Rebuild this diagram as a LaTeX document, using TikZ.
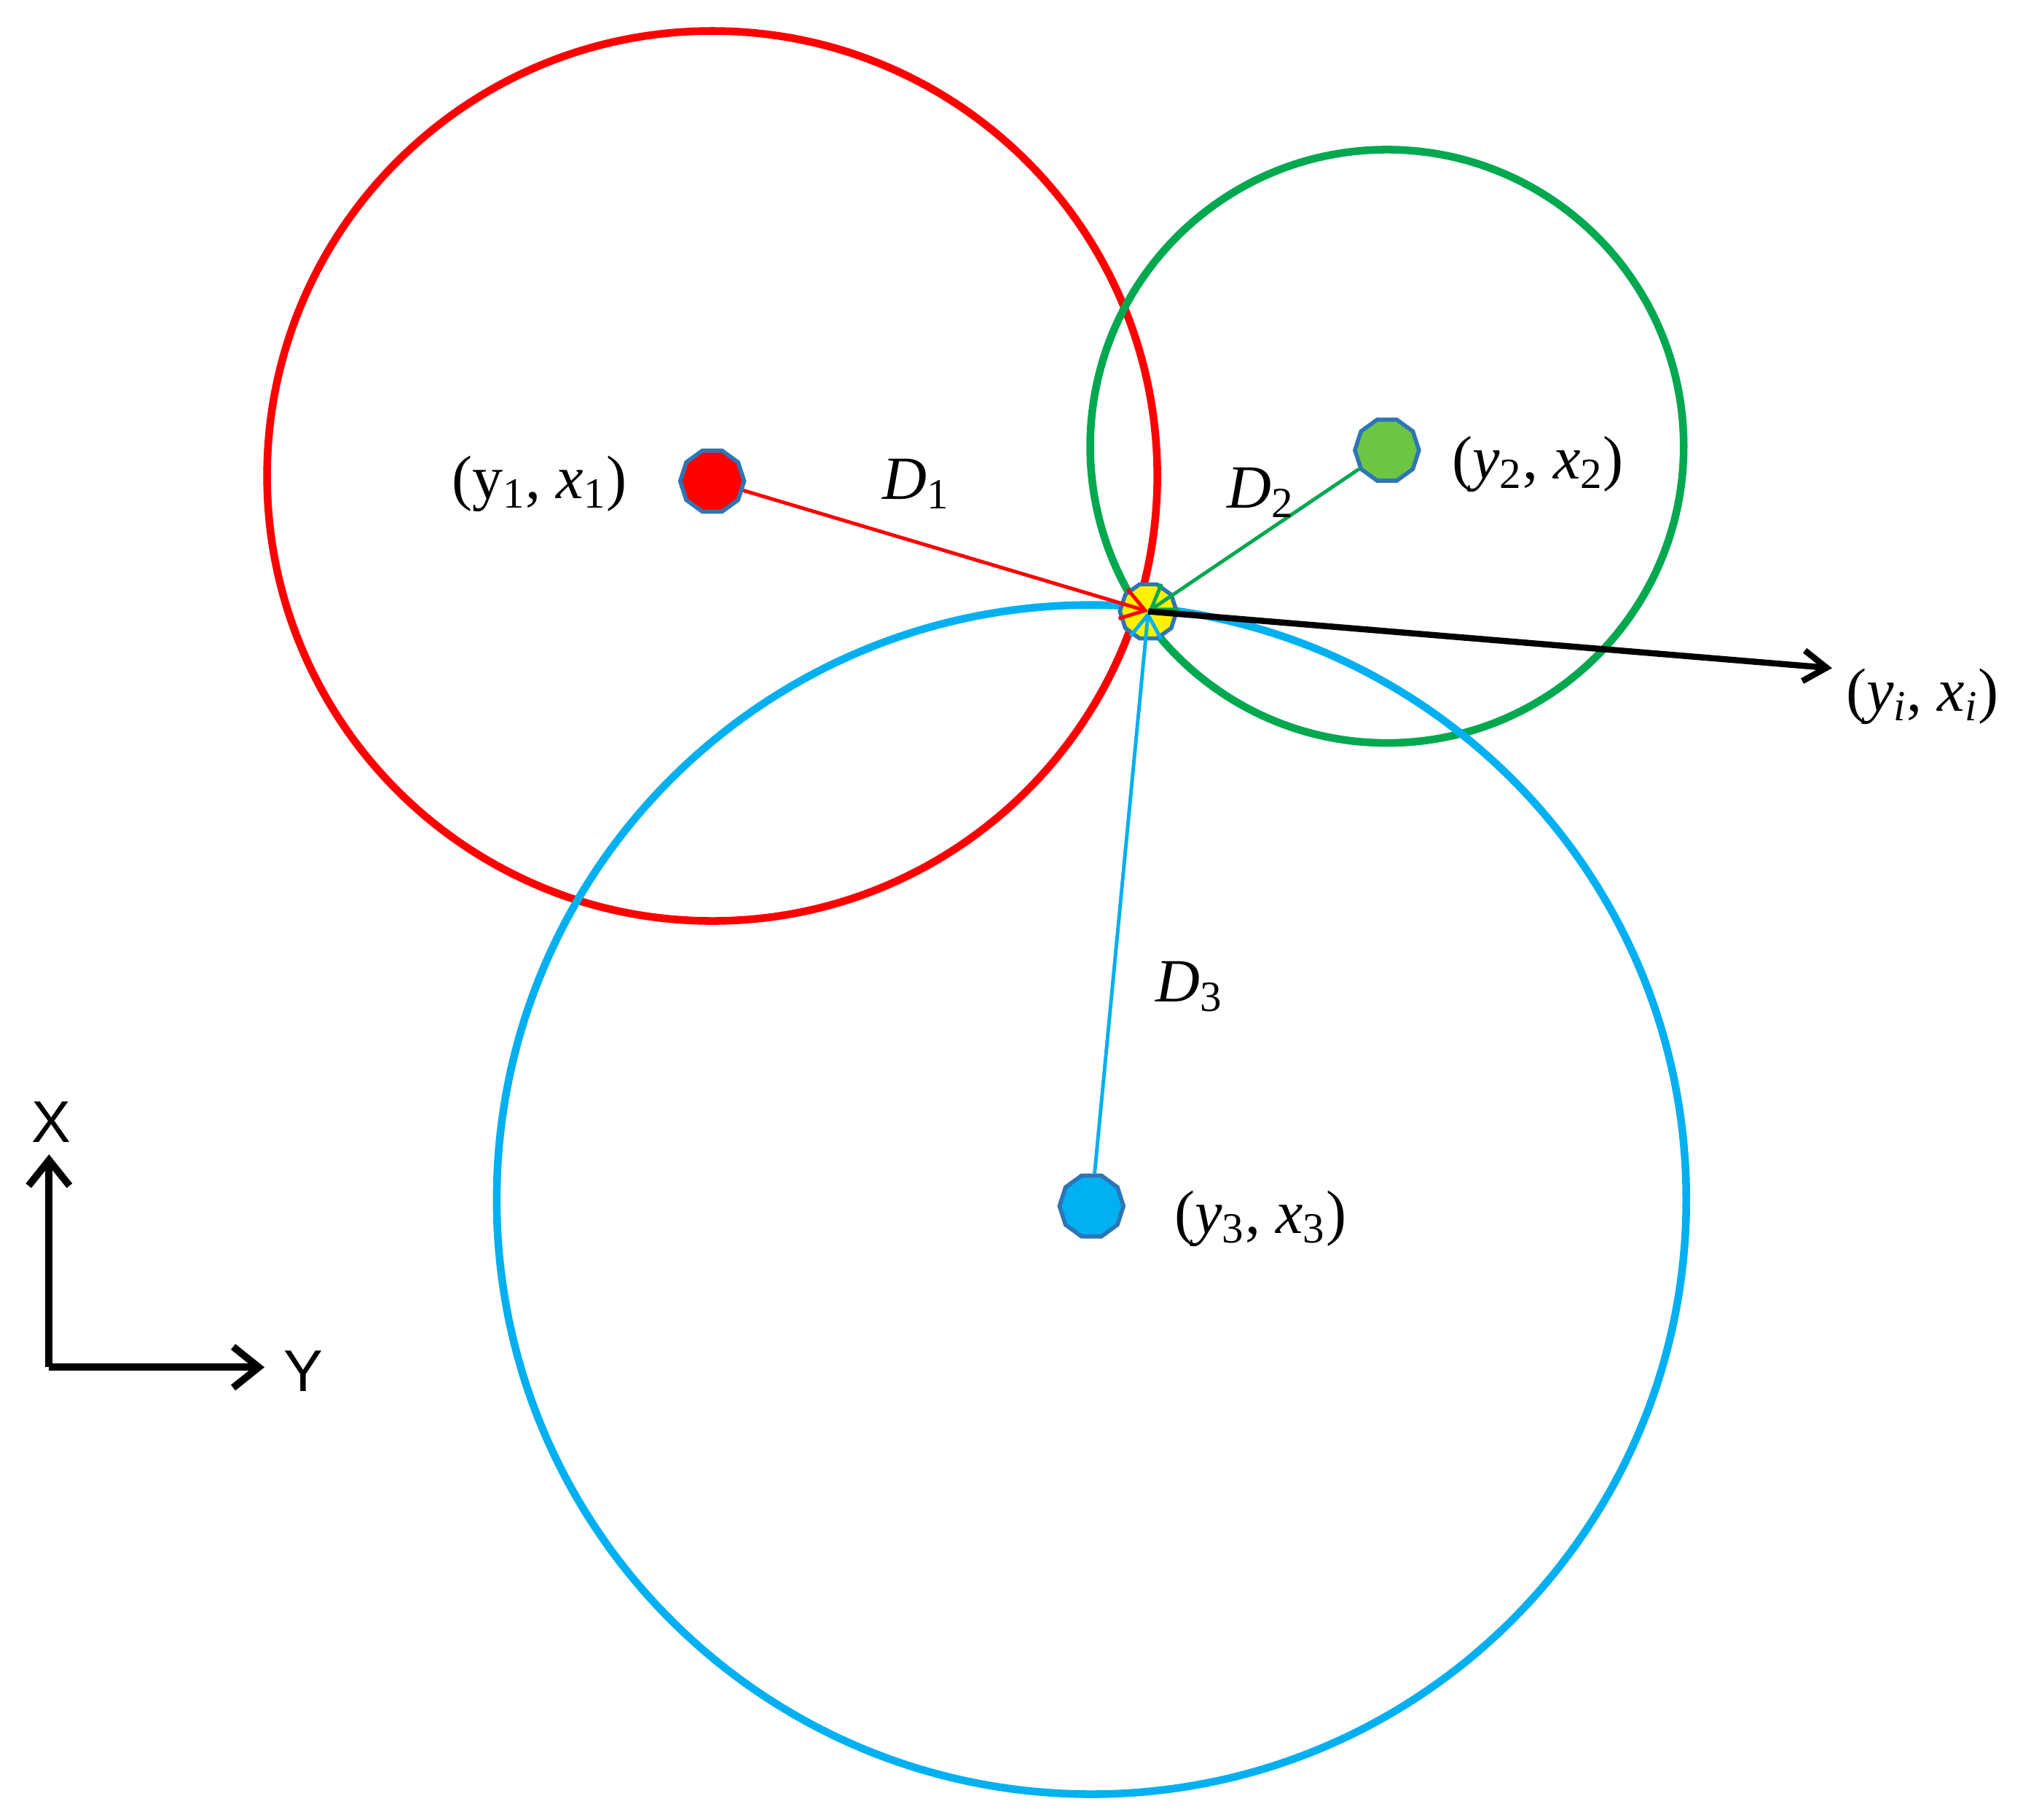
\documentclass[tikz,border=0pt]{standalone}
\usepackage{fontspec}
\setmainfont{Liberation Serif}
\newfontfamily\axfont{Liberation Sans}
\usetikzlibrary{shapes.geometric,arrows.meta}
\definecolor{cred}{HTML}{FF0000}
\definecolor{cgreen}{HTML}{00A84F}
\definecolor{cblue}{HTML}{00B0F0}
\definecolor{cedge}{HTML}{2E75B6}
\definecolor{cgdot}{HTML}{6CC644}
\begin{document}
\begin{tikzpicture}[x=0.01771cm,y=-0.01771cm,
  circ/.style={line width=3pt},
  dot/.style={regular polygon,regular polygon sides=10,minimum size=0.88cm,inner sep=0pt,draw=cedge,line width=1.6pt},
  vec/.style={line width=1.4pt,-{Straight Barb[length=9pt,width=12pt]}},
  lab/.style={font=\fontsize{24}{28}\selectfont},
  ax/.style={line width=2.8pt,-{Straight Barb[length=10pt,width=16pt]}}]
\useasboundingbox (0,0) rectangle (1568,1411);
\draw[circ,cred] (552,369) circle[radius=345];
\draw[circ,cgreen] (1075,346) circle[radius=230];
\draw[circ,cblue] (846,930) circle[radius=461];
\node[dot,fill=cred] (p1) at (552,373) {};
\node[dot,fill=cgdot] (p2) at (1075,349) {};
\node[dot,fill=cblue] (p3) at (846,935) {};
\node[dot,fill=yellow,minimum size=0.78cm] (pi) at (890,474) {};
\coordinate (ci) at (890,474);
\coordinate (end) at (1420,518);
\draw[vec,cred] (p1) -- (ci);
\draw[vec,cgreen] (p2) -- (ci);
\draw[vec,cblue] (p3) -- (ci);
\draw[vec,black,line width=2.4pt] (ci) -- (end);
\node[lab] (l1) at (418,375) {(y\textsubscript{1}, \textit{x}\textsubscript{1})};
\node[lab] (d1) at (710,375) {\textit{D}\textsubscript{1}};
\node[lab] (d2) at (977,382) {\textit{D}\textsubscript{2}};
\node[lab] (l2) at (1192,360) {(\textit{y}\textsubscript{2}, \textit{x}\textsubscript{2})};
\node[lab] (li) at (1490,540) {(\textit{y\textsubscript{i}}, \textit{x\textsubscript{i}})};
\node[lab] (d3) at (922,765) {\textit{D}\textsubscript{3}};
\node[lab] (l3) at (977,945) {(\textit{y}\textsubscript{3}, \textit{x}\textsubscript{3})};
\coordinate (o) at (38,1060);
\coordinate (xt) at (38,895);
\coordinate (yt) at (205,1060);
\draw[ax] (o) -- (xt);
\draw[ax] (o) -- (yt);
\node[font=\axfont\fontsize{23}{27}\selectfont] (X) at (40,870) {X};
\node[font=\axfont\fontsize{23}{27}\selectfont] (Y) at (235,1063) {Y};
\end{tikzpicture}
\end{document}
